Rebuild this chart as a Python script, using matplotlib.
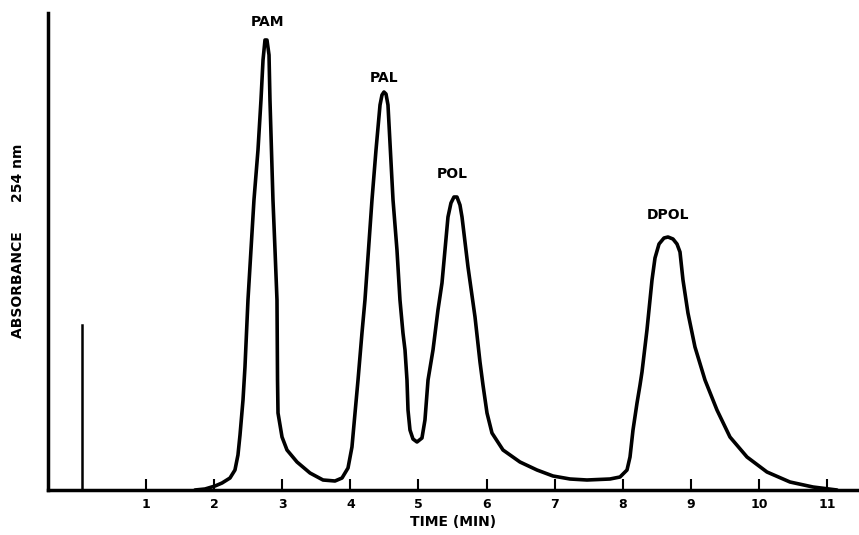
import matplotlib.pyplot as plt
import numpy as np

# chromatogram trace (time in min, absorbance in arbitrary units)
TIME = [1.718, 1.865, 2.012, 2.115, 2.232, 2.305, 2.349, 2.379, 2.423, 2.452,
        2.496, 2.584, 2.643, 2.687, 2.717, 2.746, 2.775, 2.805, 2.819, 2.863,
        2.893, 2.922, 2.930, 2.937, 2.996, 3.069, 3.216, 3.407, 3.598, 3.774,
        3.877, 3.965, 4.023, 4.068, 4.112, 4.170, 4.214, 4.317, 4.376, 4.435,
        4.464, 4.493, 4.523, 4.552, 4.626, 4.684, 4.728, 4.772, 4.802, 4.831,
        4.846, 4.875, 4.919, 4.978, 5.051, 5.095, 5.140, 5.213, 5.286, 5.345,
        5.433, 5.477, 5.521, 5.565, 5.609, 5.639, 5.727, 5.830, 5.903, 5.947,
        6.006, 6.079, 6.241, 6.490, 6.740, 6.975, 7.225, 7.474, 7.812, 7.959,
        8.062, 8.106, 8.150, 8.209, 8.253, 8.282, 8.355, 8.429, 8.473, 8.532,
        8.605, 8.664, 8.737, 8.796, 8.840, 8.884, 8.957, 9.060, 9.207, 9.383,
        9.574, 9.824, 10.117, 10.455, 10.793, 11.145]
ABS = [0, 1, 4, 7, 12, 20, 35, 55, 90, 123,
       190, 290, 340, 390, 430, 450, 450, 435, 390, 290,
       240, 190, 110, 77, 53, 40, 28, 17, 10, 9,
       12, 22, 43, 77, 110, 157, 190, 290, 340, 385,
       395, 398, 396, 385, 290, 240, 190, 157, 140, 110,
       80, 60, 51, 48, 52, 70, 110, 140, 180, 207,
       273, 287, 293, 293, 285, 273, 223, 173, 128, 105,
       77, 57, 40, 28, 20, 14, 11, 10, 11, 13,
       20, 33, 60, 87, 105, 118, 160, 210, 232, 246,
       252, 253, 251, 246, 238, 210, 177, 143, 110, 80,
       53, 33, 18, 8, 3, 0]

PEAK_NAMES = ["PAM", "PAL", "POL", "DPOL"]
PEAK_TIMES = [2.78, 4.50, 5.50, 8.66]
PEAK_LABEL_Y = [468, 412, 316, 275]

INJECT_T = 0.06
INJECT_H = 165
TICKS = list(range(1, 12))

fig = plt.figure(figsize=(8.59, 5.35), dpi=100)
ax = fig.add_axes([48/859, 45/535, 810/859, 477/535])

ax.plot(TIME, ABS, color="black", lw=2.6, solid_capstyle="round", solid_joinstyle="round")
ax.plot([INJECT_T, INJECT_T], [0, INJECT_H], color="black", lw=1.8)

for name, t, y in zip(PEAK_NAMES, PEAK_TIMES, PEAK_LABEL_Y):
    ax.text(t, y, name, ha="center", va="center", fontsize=10, fontweight="bold")

ax.set_xlim(-0.4405, 11.454)
ax.set_ylim(0, 477)
ax.spines["top"].set_visible(False)
ax.spines["right"].set_visible(False)
ax.spines["left"].set_linewidth(2.5)
ax.spines["bottom"].set_linewidth(2.5)

ax.set_xticks(TICKS)
ax.set_xticklabels([str(t) for t in TICKS], fontsize=9, fontweight="bold")
ax.tick_params(axis="x", direction="in", length=8, width=1.5, pad=6)
ax.set_yticks([])

ax.set_xlabel("TIME (MIN)", fontsize=10, fontweight="bold", labelpad=3)
ax.set_ylabel("ABSORBANCE      254 nm", fontsize=10, fontweight="bold")
ax.yaxis.set_label_coords(-0.028, 0.522)

fig.savefig("out.png", dpi=100)
